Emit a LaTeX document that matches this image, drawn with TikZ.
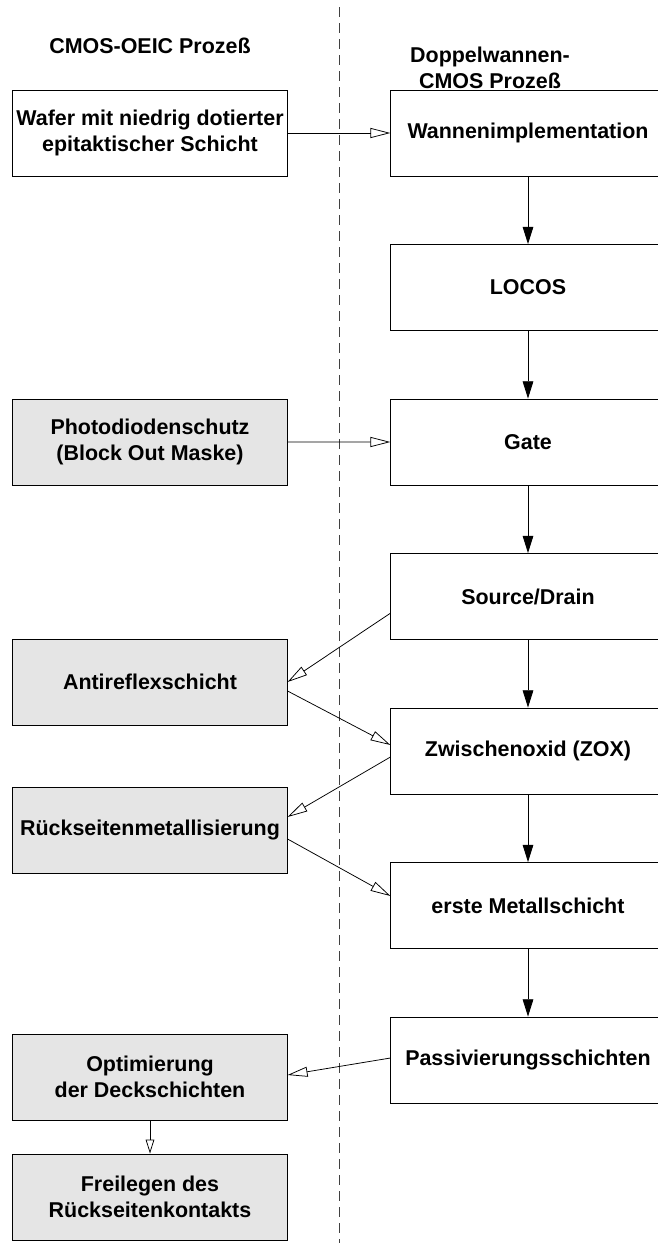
\documentclass[tikz,border=0pt]{standalone}
\usepackage{fontspec}
\setmainfont{Liberation Sans}
\usetikzlibrary{arrows.meta}

\begin{document}
\begin{tikzpicture}[node distance=4.635cm,
  cmosbox/.style={draw, rectangle, fill=white, line width=0.7pt, minimum width=8.23cm, minimum height=2.58cm, inner sep=0pt, align=center, font=\fontsize{18.3}{22.2}\selectfont\bfseries},
  oeicbox/.style={cmosbox, fill=black!10},
  titel/.style={align=center, font=\fontsize{18.3}{22.2}\selectfont\bfseries},
  flow/.style={-{Triangle[length=0.52cm,width=0.32cm]}, line width=0.75pt},
  feed/.style={-{Triangle[open,length=0.6cm,width=0.3cm]}, line width=0.65pt}]
\useasboundingbox (0,0) rectangle (19.71,-37.29);
\draw[dash pattern=on 0.3cm off 0.18cm, black!75, line width=0.7pt] (10.17,-0.21) -- (10.17,-37.29);
\node (links) [titel] at (4.5,-1.38) {CMOS-OEIC Prozeß};
\node (rechts) [titel] at (14.7,-2.04) {Doppelwannen-\\CMOS Prozeß};
\node (wannen) [cmosbox] at (15.84,-3.99) {Wannenimplementation};
\node (locos) [cmosbox, below of=wannen] {LOCOS};
\node (gate) [cmosbox, below of=locos] {Gate};
\node (sd) [cmosbox, below of=gate] {Source/Drain};
\node (zox) [cmosbox, below of=sd] {Zwischenoxid (ZOX)};
\node (metall) [cmosbox, below of=zox] {erste Metallschicht};
\node (pass) [cmosbox, below of=metall] {Passivierungsschichten};
\node (wafer) [cmosbox] at (4.5,-3.99) {Wafer mit niedrig dotierter\\epitaktischer Schicht};
\node (photo) [oeicbox] at (4.5,-13.26) {Photodiodenschutz\\(Block Out Maske)};
\node (anti) [oeicbox] at (4.5,-20.46) {Antireflexschicht};
\node (rueck) [oeicbox] at (4.5,-24.9) {Rückseitenmetallisierung};
\node (opt) [oeicbox] at (4.5,-32.31) {Optimierung\\der Deckschichten};
\node (frei) [oeicbox, below of=opt, node distance=3.6cm] {Freilegen des\\Rückseitenkontakts};
\draw[flow] (wannen) -- (locos);
\draw[flow] (locos) -- (gate);
\draw[flow] (gate) -- (sd);
\draw[flow] (sd) -- (zox);
\draw[flow] (zox) -- (metall);
\draw[flow] (metall) -- (pass);
\draw[feed] (wafer) -- (wannen);
\draw[feed] (photo) -- (gate);
\draw[feed] ([yshift=-0.5cm]sd.west) -- (anti.east);
\draw[feed] ([yshift=-0.27cm]anti.east) -- ([yshift=0.18cm]zox.west);
\draw[feed] ([yshift=-0.18cm]zox.west) -- ([yshift=0.39cm]rueck.east);
\draw[feed] ([yshift=-0.27cm]rueck.east) -- ([yshift=0.285cm]metall.west);
\draw[feed] ([yshift=0.06cm]pass.west) -- ([yshift=0.06cm]opt.east);
\draw[-{Triangle[open,length=0.42cm,width=0.26cm]}, line width=0.65pt] (opt) -- (frei);
\end{tikzpicture}
\end{document}
